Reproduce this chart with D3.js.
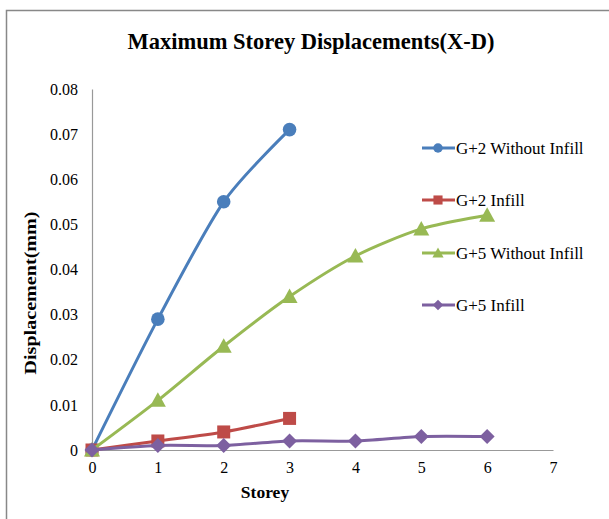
<!DOCTYPE html>
<html><head><meta charset="utf-8">
<script src="https://cdn.jsdelivr.net/npm/d3@7"></script>
<style>body{margin:0;background:#fff}svg{display:block}</style>
</head><body>
<svg id="c" width="609" height="519"></svg>
<script>
const storeys = [0,1,2,3,4,5,6];
const g2Without = [0,0.029,0.055,0.071];
const g2Infill = [0,0.002,0.004,0.007];
const g5Without = [0,0.011,0.023,0.034,0.043,0.049,0.052];
const g5Infill = [0,0.001,0.001,0.002,0.002,0.003,0.003];
const seriesNames = ["G+2 Without Infill","G+2 Infill","G+5 Without Infill","G+5 Infill"];
const xTicks = [0,1,2,3,4,5,6,7];
const yTicks = [0,0.01,0.02,0.03,0.04,0.05,0.06,0.07,0.08];

const series = [
  {name:seriesNames[0], values:g2Without, color:"#4a7ebb", shape:"circle"},
  {name:seriesNames[1], values:g2Infill, color:"#be4b48", shape:"square"},
  {name:seriesNames[2], values:g5Without, color:"#98b954", shape:"triangle"},
  {name:seriesNames[3], values:g5Infill, color:"#7d60a0", shape:"diamond"}
];

const svg = d3.select("#c");
const font = "'Liberation Serif','Times New Roman',serif";
svg.append("rect").attr("x",6.5).attr("y",10.5).attr("width",640).attr("height",560)
  .attr("fill","none").attr("stroke","#888").attr("stroke-width",1.5);

const x = d3.scaleLinear().domain([0,7]).range([92,553]);
const y = d3.scaleLinear().domain([0,0.08]).range([450,89]);

svg.append("text").attr("x",311).attr("y",49).attr("text-anchor","middle")
  .attr("font-family",font).attr("font-weight","bold").attr("font-size",22.5)
  .text("Maximum Storey Displacements(X-D)");

// axes
const xAxis = svg.append("g").attr("transform","translate(0,450)")
  .call(d3.axisBottom(x).tickValues(xTicks).tickSize(0).tickPadding(12).tickFormat(d3.format("d")));
const yAxis = svg.append("g").attr("transform","translate(92,0)")
  .call(d3.axisLeft(y).tickValues(yTicks).tickSize(0).tickPadding(14).tickFormat(d=>d===0?"0":d3.format(".2f")(d)));
[xAxis,yAxis].forEach(a=>{
  a.select(".domain").attr("stroke","#999").attr("stroke-width",1.2);
  a.selectAll("text").attr("font-family",font).attr("font-size",16).attr("fill","#000");
});

svg.append("text").attr("x",265).attr("y",498).attr("text-anchor","middle")
  .attr("font-family",font).attr("font-weight","bold").attr("font-size",17.5).text("Storey");
svg.append("text").attr("transform","translate(36,293) rotate(-90) scale(1.15,1)").attr("text-anchor","middle")
  .attr("font-family",font).attr("font-weight","bold").attr("font-size",17.5).text("Displacement(mm)");

const line = d3.line().x((d,i)=>x(storeys[i])).y(d=>y(d)).curve(d3.curveCardinal.tension(0.2));

function marker(g, shape, color, cx, cy, s){
  if(shape==="circle") g.append("circle").attr("cx",cx).attr("cy",cy).attr("r",6.8*s).attr("fill",color);
  else if(shape==="square") g.append("rect").attr("x",cx-6.5*s).attr("y",cy-6.5*s).attr("width",13*s).attr("height",13*s).attr("fill",color);
  else if(shape==="triangle") g.append("path").attr("d",`M${cx},${cy-8*s}L${cx+8*s},${cy+6.5*s}L${cx-8*s},${cy+6.5*s}Z`).attr("fill",color);
  else g.append("path").attr("d",`M${cx},${cy-7.5*s}L${cx+7.5*s},${cy}L${cx},${cy+7.5*s}L${cx-7.5*s},${cy}Z`).attr("fill",color);
}

series.forEach(s=>{
  const g = svg.append("g");
  g.append("path").attr("d",line(s.values)).attr("fill","none").attr("stroke",s.color).attr("stroke-width",3);
  s.values.forEach((v,i)=>marker(g,s.shape,s.color,x(storeys[i]),y(v),1));
});

// legend
const legY = [148,200,253,305];
series.forEach((s,i)=>{
  const g = svg.append("g");
  g.append("line").attr("x1",422).attr("x2",455).attr("y1",legY[i]).attr("y2",legY[i]).attr("stroke",s.color).attr("stroke-width",3);
  marker(g,s.shape,s.color,438,legY[i],0.7);
  g.append("text").attr("x",456).attr("y",legY[i]+6).attr("font-family",font).attr("font-size",17).text(s.name);
});
</script>
</body></html>
